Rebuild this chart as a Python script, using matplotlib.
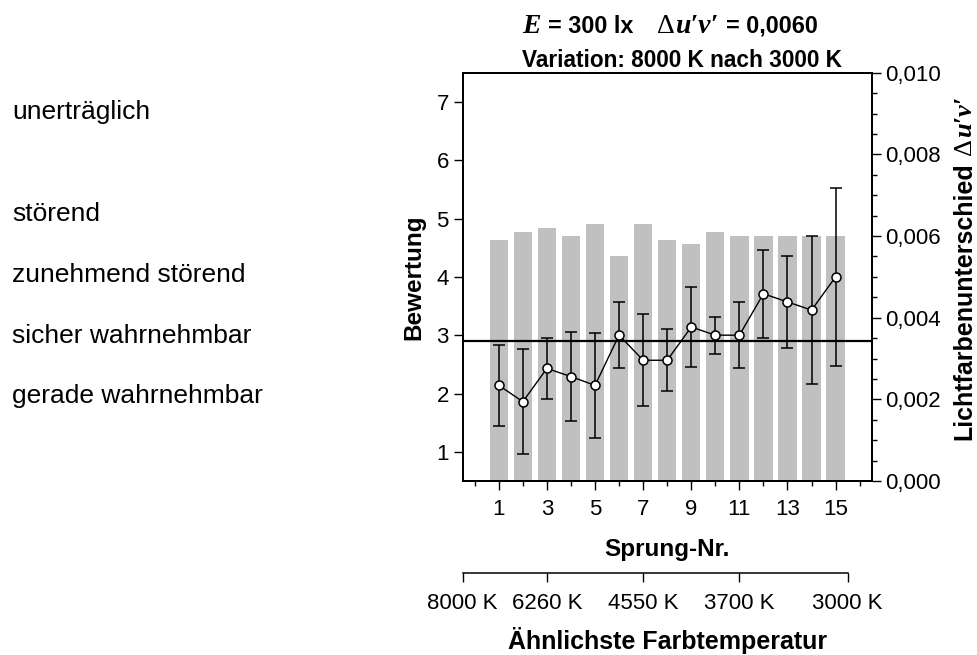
import numpy as np
import matplotlib
matplotlib.use("Agg")
import matplotlib.pyplot as plt
from matplotlib.ticker import FuncFormatter

plt.rcParams['font.family'] = 'Liberation Sans'

# data
sprung = np.arange(1, 16)
du_v = [0.0059, 0.0061, 0.0062, 0.0060, 0.0063, 0.0055, 0.0063, 0.0059,
        0.0058, 0.0061, 0.0060, 0.0060, 0.0060, 0.0060, 0.0060]
rating = [2.14, 1.86, 2.43, 2.29, 2.14, 3.00, 2.57, 2.57, 3.14, 3.00,
          3.00, 3.71, 3.57, 3.43, 4.00]
rating_sd = [0.69, 0.90, 0.53, 0.76, 0.90, 0.57, 0.79, 0.53, 0.69, 0.32,
             0.57, 0.75, 0.79, 1.27, 1.52]
threshold = 2.9

# verbal rating scale, placed next to the rating axis
scale_y = [6.82, 5.08, 4.04, 2.99, 1.95]
scale_names = ["unerträglich", "störend", "zunehmend störend",
               "sicher wahrnehmbar", "gerade wahrnehmbar"]

ct_pos = [-0.5, 3, 7, 11, 15.5]
ct_labels = ["8000 K", "6260 K", "4550 K", "3700 K", "3000 K"]

W, H = 978, 655
fig = plt.figure(figsize=(W / 100, H / 100), dpi=100)
ax = fig.add_axes([462.7 / W, 1 - 481 / H, 409 / W, 408.3 / H])

# bars on the right axis (du'v')
ax.bar(sprung, du_v, width=0.76, color="#c0c0c0", zorder=1)
ax.set_ylim(0, 0.010)
ax.set_xlim(-0.5, 16.5)

# ratings on the left axis
ax2 = ax.twinx()
ax2.set_ylim(0.5, 7.5)
ax2.set_yticks(range(1, 8))
ax2.axhline(threshold, color="black", lw=1.6, zorder=2)
ax2.errorbar(sprung, rating, yerr=rating_sd, fmt="-o", color="black", lw=1,
             elinewidth=1.1, capsize=4.3, capthick=1.1, ms=6.5, mfc="white",
             mec="black", mew=1.1, zorder=3)

# swap sides: twinx puts the original axis left, so move it back
ax.yaxis.tick_right()
ax2.yaxis.tick_left()
ax2.yaxis.set_label_position("left")

ax.set_yticks(np.arange(0, 0.0101, 0.002))
ax.set_yticks(np.arange(0, 0.0101, 0.0005), minor=True)
ax.yaxis.set_major_formatter(FuncFormatter(lambda v, p: f"{v:.3f}".replace(".", ",")))
ax2.set_ylabel("Bewertung", fontsize=17.5, fontweight="bold", labelpad=8)

ax.set_xticks(sprung[::2])
ax.set_xticks(np.arange(0, 17, 2), minor=True)
ax.set_xlabel("Sprung-Nr.", fontsize=17.5, fontweight="bold", labelpad=13)

for a in (ax, ax2):
    for s in a.spines.values():
        s.set_linewidth(1.4)
ax.tick_params(axis="both", which="major", direction="out", length=6.5,
               width=1, labelsize=16)
ax.tick_params(axis="both", which="minor", direction="out", length=3.3, width=1)
ax.tick_params(axis="x", which="major", pad=6.5)
ax2.tick_params(axis="y", which="major", direction="out", length=6.5,
                width=1, labelsize=16)

# second x axis: colour temperature
ax3 = ax.twiny()
ax3.set_xlim(ax.get_xlim())
for k in ("top", "left", "right"):
    ax3.spines[k].set_visible(False)
ax3.xaxis.set_ticks_position("bottom")
ax3.xaxis.set_label_position("bottom")
ax3.spines["bottom"].set_position(("outward", 66))
ax3.spines["bottom"].set_bounds(ct_pos[0], ct_pos[-1])
ax3.spines["bottom"].set_linewidth(1.1)
ax3.set_xticks(ct_pos)
ax3.set_xticklabels(ct_labels)
ax3.tick_params(axis="x", direction="out", length=6.7, width=1, labelsize=16, pad=8)
ax3.set_xlabel("Ähnlichste Farbtemperatur", fontsize=18, fontweight="bold", labelpad=9)

for yv, name in zip(scale_y, scale_names):
    ax2.annotate(name, xy=(12 / W, yv), xycoords=("figure fraction", "data"),
                 fontsize=19, va="center")

# mixed-font labels (sans bold + serif italic symbols), laid out piece by piece
sans_b = dict(family="Liberation Sans", fontweight="bold")
serif_bi = dict(family=["Liberation Serif", "DejaVu Serif"], fontweight="bold", style="italic")
serif_r = dict(family=["Liberation Serif", "DejaVu Serif"])


def place_pieces(pieces, center, base, vertical=False):
    # pieces: (text, font kwargs, size, gap before in px)
    r = fig.canvas.get_renderer()
    items = []
    for s, kw, size, gap in pieces:
        t = fig.text(0, 0, s, fontsize=size, ha="left", va="baseline",
                     rotation_mode="anchor", **kw)
        w = t.get_window_extent(r).width
        items.append((t, w, gap))
    total = sum(w + g for _, w, g in items)
    pos = center - total / 2
    for t, w, gap in items:
        pos += gap
        if vertical:
            t.set_rotation(90)
            t.set_position((base / W, pos / H))
        else:
            t.set_position((pos / W, 1 - base / H))
        pos += w


place_pieces([("E", serif_bi, 20, 0),
              ("= 300 lx", sans_b, 16.8, 7),
              ("Δ", serif_r, 20, 24),
              ("u′v′", serif_bi, 20, 1),
              ("= 0,0060", sans_b, 16.8, 7)], center=670, base=33)
fig.text(682 / W, 1 - 67 / H, "Variation: 8000 K nach 3000 K",
         ha="center", va="baseline", fontsize=16.3, fontweight="bold")

# right axis title, reading upwards (y counted from the bottom here)
place_pieces([("Lichtfarbenunterschied", sans_b, 18, 0),
              ("Δ", serif_r, 19, 7),
              ("u′v′", serif_bi, 19, 1)], center=H - 268, base=971, vertical=True)

fig.savefig("out.png", dpi=100)
